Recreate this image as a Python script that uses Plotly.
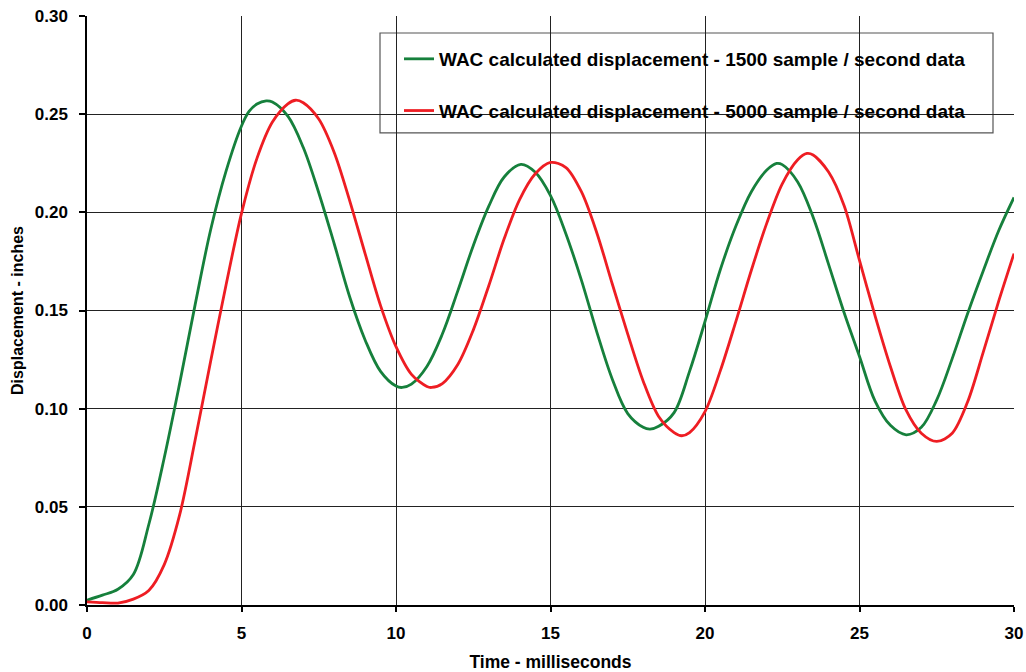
import plotly.graph_objects as go

# Displacement traces (time in ms, displacement in inches)
t_1500 = [0.0, 0.5, 1.0, 1.5, 2.0, 2.5, 3.0, 3.5, 4.0, 4.5, 5.0, 5.25, 5.5, 5.8, 6.0, 6.5,
          7.0, 7.5, 8.0, 8.5, 9.0, 9.5, 10.0, 10.2, 10.5, 11.0, 11.5, 12.0, 12.5, 13.0,
          13.5, 14.04, 14.5, 15.0, 15.5, 16.0, 16.5, 17.0, 17.5, 18.0, 18.22, 18.5, 19.0,
          19.5, 20.0, 20.5, 21.0, 21.5, 22.0, 22.32, 22.5, 23.0, 23.5, 24.0, 24.5, 25.0,
          25.5, 26.0, 26.51, 27.0, 27.5, 28.0, 28.5, 29.0, 29.5, 30.0]
d_1500 = [0.0025, 0.005, 0.008, 0.0155, 0.041, 0.075, 0.113, 0.153, 0.191, 0.221, 0.244,
          0.2515, 0.2552, 0.2568, 0.2562, 0.249, 0.233, 0.210, 0.184, 0.157, 0.135, 0.119,
          0.1115, 0.1108, 0.1125, 0.1215, 0.138, 0.160, 0.183, 0.203, 0.218, 0.2244, 0.2205,
          0.2085, 0.189, 0.1655, 0.139, 0.115, 0.0975, 0.0905, 0.0896, 0.091, 0.098, 0.119,
          0.1444, 0.171, 0.193, 0.2105, 0.2215, 0.2249, 0.2243, 0.2155, 0.1975, 0.1735,
          0.149, 0.1266, 0.104, 0.0915, 0.0867, 0.0905, 0.1045, 0.1255, 0.1485, 0.170,
          0.1905, 0.2076]

t_5000 = [0.0, 0.5, 1.0, 1.5, 2.0, 2.5, 3.0, 3.5, 4.0, 4.5, 5.0, 5.5, 6.0, 6.5, 6.75, 7.0,
          7.5, 8.0, 8.5, 9.0, 9.5, 10.0, 10.5, 11.0, 11.15, 11.5, 12.0, 12.5, 13.0, 13.5,
          14.0, 14.5, 15.0, 15.5, 16.0, 16.5, 17.0, 17.5, 18.0, 18.5, 19.0, 19.25, 19.5,
          20.0, 20.5, 21.0, 21.5, 22.0, 22.5, 23.0, 23.3, 23.5, 24.0, 24.5, 25.0, 25.5,
          26.0, 26.5, 27.0, 27.5, 28.0, 28.5, 29.0, 29.5, 30.0]
d_5000 = [0.0016, 0.0012, 0.001, 0.003, 0.0074, 0.0206, 0.046, 0.084, 0.124, 0.163, 0.1995,
          0.2275, 0.246, 0.2553, 0.2571, 0.2558, 0.2475, 0.2305, 0.206, 0.179, 0.1525,
          0.1316, 0.1175, 0.1113, 0.1108, 0.1128, 0.1225, 0.140, 0.1625, 0.1865, 0.2065,
          0.2195, 0.2254, 0.2228, 0.2105, 0.1895, 0.1635, 0.138, 0.114, 0.096, 0.0878,
          0.0862, 0.0878, 0.0985, 0.1195, 0.1445, 0.1705, 0.1945, 0.2145, 0.2268, 0.230,
          0.2292, 0.2205, 0.2035, 0.1755, 0.1475, 0.1215, 0.0995, 0.0875, 0.0833, 0.0875,
          0.1035, 0.1285, 0.1545, 0.179]

series_names = ["WAC calculated displacement - 1500 sample / second data",
                "WAC calculated displacement - 5000 sample / second data"]

x_ticks = [0, 5, 10, 15, 20, 25, 30]
y_ticks = [0.00, 0.05, 0.10, 0.15, 0.20, 0.25, 0.30]
y_tick_labels = ["0.00", "0.05", "0.10", "0.15", "0.20", "0.25", "0.30"]

FONT = "Liberation Sans, Arial, sans-serif"
GREEN = "#16803C"
RED = "#EE1D23"

# plot-area geometry in pixels
L, R, T, B = 87, 1014, 16, 605.5
W, H = R - L, B - T

fig = go.Figure()
fig.add_trace(go.Scatter(x=t_1500, y=d_1500, mode="lines", name=series_names[0],
                         legendgroup="a",
                         line=dict(color=GREEN, width=2.8, shape="spline", smoothing=1.0)))
fig.add_trace(go.Scatter(x=t_5000, y=d_5000, mode="lines", name=series_names[1],
                         legendgroup="b",
                         line=dict(color=RED, width=2.8, shape="spline", smoothing=0.9)))

# legend frame
fig.add_shape(type="rect", xref="paper", yref="paper",
              x0=(380 - L) / W, x1=(993 - L) / W,
              y0=(B - 133) / H, y1=(B - 33) / H,
              line=dict(color="#555555", width=1.2), fillcolor="white", layer="between")

fig.update_layout(
    width=1026, height=672,
    margin=dict(l=L, r=1026 - R, t=T, b=672 - B, autoexpand=False),
    paper_bgcolor="white", plot_bgcolor="white",
    font=dict(family=FONT, size=16, color="black"),
    showlegend=True,
    legend=dict(x=(399 - L) / W, y=(B - 40) / H, xanchor="left", yanchor="top",
                bgcolor="rgba(0,0,0,0)", borderwidth=0, tracegroupgap=24,
                font=dict(family=FONT, size=19, color="black", weight="bold")),
    xaxis=dict(range=[0, 30], tickvals=x_ticks, ticktext=[str(v) for v in x_ticks],
               automargin=False,
               showgrid=True, gridcolor="#222222", gridwidth=1,
               showline=True, linecolor="black", linewidth=2, mirror=False,
               ticks="outside", ticklen=5, tickcolor="black", tickwidth=1.5,
               ticklabelstandoff=7, zeroline=False,
               tickfont=dict(family=FONT, size=17, weight="bold"),
               title=dict(text="<b>Time - milliseconds</b>", standoff=13,
                          font=dict(family=FONT, size=17.5))),
    yaxis=dict(range=[0, 0.30], tickvals=y_ticks, ticktext=y_tick_labels,
               automargin=False,
               showgrid=True, gridcolor="#222222", gridwidth=1,
               showline=True, linecolor="black", linewidth=1.5, mirror=False,
               ticks="outside", ticklen=6, tickcolor="black", tickwidth=1.5,
               ticklabelstandoff=8, zeroline=False,
               tickfont=dict(family=FONT, size=17, weight="bold"),
               title=dict(text="<b>Displacement - inches</b>", standoff=7,
                          font=dict(family=FONT, size=16))),
)

fig.write_html("out.html")
